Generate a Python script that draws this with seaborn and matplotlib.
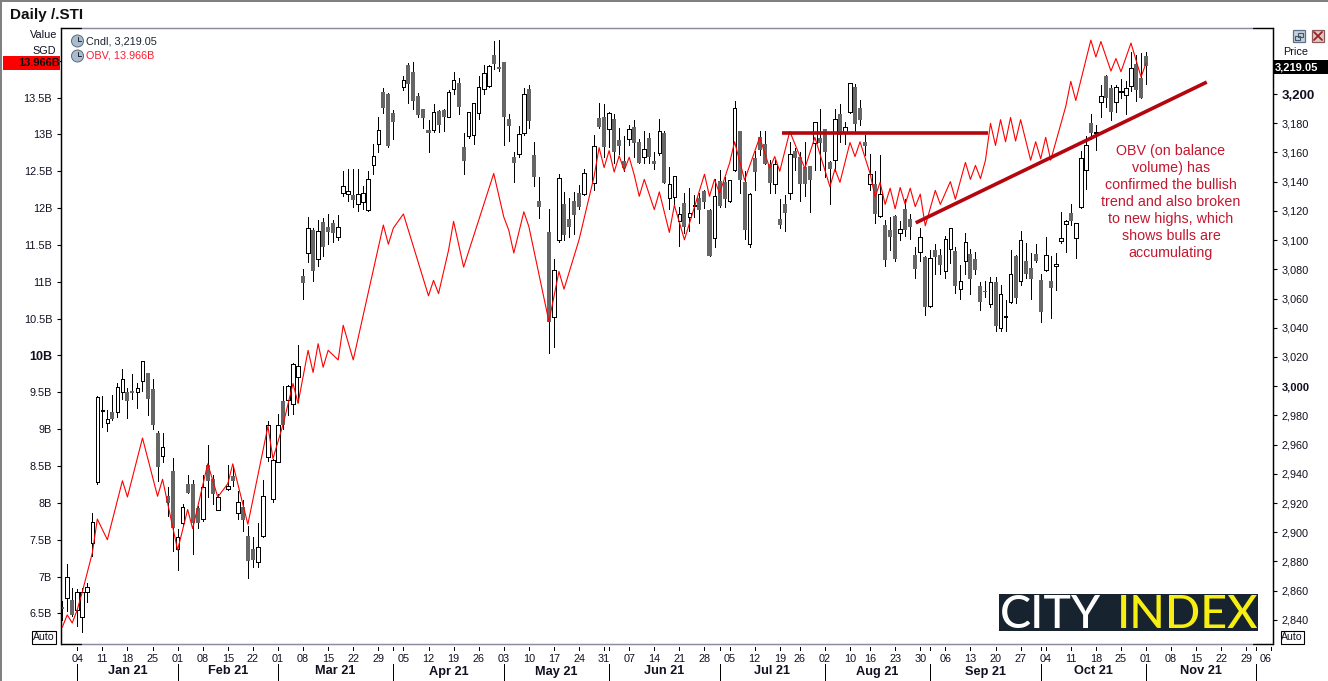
import numpy as np
import pandas as pd
import seaborn as sns
import matplotlib.pyplot as plt
from matplotlib.lines import Line2D
from matplotlib.patches import Rectangle, Ellipse

nan = np.nan

# daily candles, one slot per weekday (nan = market closed)
highs = [
    2853, 2878, 2862, 2861, 2862, 2865, 2913, 2993, 2993, 2984,
    2994, 3002, 3012, 2999, 3008, 3002, 3017, 3009, 3005, 2969,
    2968, 2931, 2951, 2902, 2919, 2939, 2936, 2918, 2939, 2960,
    2939, 2926, nan, 2946, 2945, 2928, 2922, 2904, 2897, 2906,
    2936, 2976, 2950, 2981, 3000, 3001, 3016, 3028, 3080, 3116,
    3108, 3114, 3115, 3118, 3114, 3117, 3147, 3149, 3149, 3149,
    3137, 3147, 3166, 3184, 3204, 3201, 3189, nan, 3212, 3221,
    3222, 3201, 3190, 3182, 3193, 3189, 3190, 3203, 3215, 3211,
    3173, 3188, 3194, 3212, 3220, 3220, 3236, 3237, 3222, 3186,
    3160, 3178, 3204, 3206, 3167, 3143, nan, 3121, 3087, 3145,
    3133, 3129, 3133, 3138, 3149, nan, 3172, 3194, 3193, 3188,
    3186, 3177, 3171, 3179, 3182, 3169, 3175, 3173, 3160, 3183,
    3175, 3150, 3144, 3123, 3132, 3136, 3131, 3132, 3134, 3121,
    3142, 3148, 3143, 3141, 3195, 3175, 3147, 3132, 3161, 3175,
    3175, 3155, 3155, 3128, 3131, 3167, 3163, 3160, 3167, 3151,
    3181, 3190, 3176, 3154, 3190, 3193, 3181, 3207, 3207, 3196,
    3172, 3159, 3147, 3158, 3114, 3116, 3117, 3113, 3128, 3118,
    3095, 3108, 3089, 3093, 3097, 3094, 3103, 3108, 3095, 3083,
    3105, 3094, 3092, 3071, 3072, 3075, 3075, 3069, 3059, 3093,
    3090, 3106, 3098, 3091, 3097, 3077, 3102, 3089, 3091, 3119,
    3114, 3125, 3112, 3161, 3171, 3186, 3179, 3206, 3213, 3206,
    3206, 3210, 3209, 3229, 3227, 3228, 3229,
]
lows = [
    2840, 2846, 2843, 2836, 2832, 2852, 2884, 2933, 2972, 2969,
    2977, 2979, 2991, 2978, 2991, 2985, 2997, 2980, 2971, 2935,
    2948, 2911, 2887, 2874, 2904, 2927, 2885, 2903, 2908, 2924,
    2919, 2915, nan, 2929, 2932, 2909, 2901, 2869, 2876, 2876,
    2897, 2949, 2921, 2948, 2971, 2980, 2981, 2989, 3060, 3085,
    3072, 3082, 3089, 3097, 3099, 3100, 3130, 3127, 3123, 3120,
    3121, 3120, 3145, 3160, 3187, 3164, 3169, nan, 3203, 3194,
    3190, 3184, 3177, 3160, 3174, 3174, 3175, 3184, 3200, 3186,
    3145, 3170, 3166, 3183, 3200, 3205, 3217, 3216, 3165, 3168,
    3140, 3157, 3172, 3177, 3137, 3115, nan, 3023, 3027, 3099,
    3100, 3102, 3104, 3121, 3131, nan, 3134, 3177, 3157, 3164,
    3153, 3159, 3147, 3165, 3157, 3153, 3153, 3153, 3149, 3158,
    3139, 3121, 3125, 3096, 3105, 3106, 3116, 3112, 3122, 3089,
    3095, 3123, 3123, 3126, 3147, 3132, 3101, 3095, 3134, 3158,
    3152, 3132, 3132, 3108, 3106, 3128, 3148, 3127, 3130, 3119,
    3148, 3148, 3143, 3125, 3147, 3167, 3166, 3187, 3175, 3179,
    3158, 3134, 3112, 3116, 3082, 3093, 3086, 3100, 3103, 3101,
    3074, 3086, 3049, 3054, 3077, 3077, 3074, 3084, 3064, 3060,
    3077, 3063, 3077, 3052, 3061, 3054, 3038, 3038, 3038, 3057,
    3057, 3069, 3074, 3060, 3085, 3044, 3079, 3047, 3066, 3098,
    3092, 3110, 3088, 3122, 3135, 3169, 3162, 3184, 3191, 3182,
    3188, 3197, 3186, 3202, 3195, 3197, 3207,
]
opens = [
    2849.1, 2854.8, 2853.6, 2846.8, 2841.8, 2858.9, 2892.4, 2934.4, 2983.2, 2975.0,
    2982.3, 2982.1, 2995.8, 2996.0, 2996.7, 2995.8, 3003.8, 3008.8, 2997.8, 2967.7,
    2952.4, 2924.8, 2941.9, 2888.8, 2906.1, 2933.0, 2933.0, 2916.4, 2909.3, 2946.0,
    2936.2, 2915.2, nan, 2929.8, 2938.5, 2913.4, 2917.5, 2897.4, 2888.3, 2879.4,
    2897.7, 2951.3, 2923.0, 2948.3, 2989.8, 2990.5, 2987.6, 3006.0, 3075.4, 3091.3,
    3106.9, 3086.8, 3112.1, 3108.7, 3111.5, 3102.3, 3132.0, 3131.3, 3130.9, 3124.5,
    3126.3, 3120.4, 3151.6, 3165.5, 3201.4, 3200.0, 3186.8, nan, 3205.0, 3219.8,
    3215.0, 3198.6, 3189.7, 3175.4, 3175.6, 3188.4, 3189.0, 3184.0, 3203.7, 3207.5,
    3163.7, 3171.2, 3172.2, 3187.2, 3203.2, 3205.7, 3226.7, 3218.5, 3221.9, 3182.9,
    3156.9, 3159.0, 3173.1, 3203.4, 3158.2, 3126.8, nan, 3105.5, 3047.6, 3100.0,
    3124.7, 3114.4, 3126.8, 3132.2, 3131.8, nan, 3139.3, 3183.6, 3184.2, 3176.3,
    3182.9, 3168.5, 3154.1, 3169.4, 3177.4, 3167.1, 3157.1, 3169.9, 3154.1, 3159.4,
    3173.1, 3128.6, 3129.3, 3113.3, 3125.2, 3116.0, 3123.4, 3128.6, 3133.6, 3120.6,
    3101.2, 3140.4, 3139.8, 3126.5, 3147.7, 3174.7, 3139.8, 3097.1, 3156.2, 3170.4,
    3165.8, 3152.1, 3138.2, 3114.4, 3124.7, 3132.5, 3161.0, 3156.9, 3150.0, 3150.7,
    3166.2, 3169.9, 3176.0, 3153.4, 3154.6, 3186.3, 3174.0, 3187.4, 3204.8, 3190.4,
    3167.2, 3138.4, 3138.4, 3116.5, 3110.3, 3106.9, 3116.5, 3105.1, 3121.3, 3114.4,
    3089.8, 3091.6, 3088.4, 3055.1, 3093.2, 3089.8, 3078.6, 3093.7, 3092.6, 3066.7,
    3085.4, 3090.5, 3087.0, 3068.6, 3064.9, 3056.2, 3071.1, 3039.6, 3047.1, 3057.8,
    3089.1, 3072.2, 3085.4, 3080.9, 3090.5, 3072.7, 3079.5, 3072.0, 3082.0, 3099.4,
    3110.8, 3118.5, 3101.7, 3122.4, 3147.7, 3180.2, 3173.3, 3194.7, 3212.3, 3204.1,
    3194.7, 3201.6, 3199.5, 3205.7, 3220.5, 3210.9, 3226.0,
]
closes = [
    2847.7, 2869.1, 2843.4, 2858.9, 2859.3, 2862.8, 2906.8, 2992.8, 2983.7, 2977.3,
    2977.3, 2999.7, 3004.7, 2990.1, 2995.5, 2998.5, 3017.0, 2991.2, 2973.4, 2944.9,
    2958.6, 2919.8, 2902.7, 2896.5, 2917.1, 2927.1, 2906.1, 2906.6, 2931.2, 2935.3,
    2926.0, 2924.4, nan, 2931.7, 2935.3, 2920.5, 2908.4, 2880.6, 2881.0, 2890.1,
    2924.8, 2973.2, 2949.5, 2973.2, 2973.4, 3000.1, 3015.2, 3013.8, 3070.8, 3108.0,
    3079.0, 3106.2, 3095.0, 3105.7, 3105.1, 3109.2, 3137.2, 3133.8, 3127.4, 3131.3,
    3132.5, 3141.6, 3157.6, 3175.1, 3190.4, 3164.4, 3180.8, nan, 3209.3, 3206.8,
    3195.4, 3185.6, 3183.6, 3173.3, 3187.4, 3178.8, 3184.2, 3201.4, 3209.3, 3191.1,
    3154.1, 3187.7, 3193.6, 3204.6, 3214.1, 3219.2, 3220.5, 3216.9, 3184.2, 3178.1,
    3152.8, 3172.6, 3200.0, 3181.5, 3143.2, 3122.6, nan, 3043.9, 3079.5, 3142.3,
    3103.5, 3109.0, 3117.2, 3122.6, 3145.7, nan, 3164.4, 3177.4, 3163.7, 3186.8,
    3160.3, 3164.4, 3149.3, 3175.8, 3166.5, 3152.8, 3162.1, 3156.9, 3152.1, 3174.4,
    3139.3, 3138.2, 3143.7, 3117.6, 3108.7, 3118.3, 3124.0, 3120.6, 3126.1, 3089.1,
    3130.0, 3123.4, 3128.1, 3140.9, 3190.2, 3141.1, 3106.9, 3131.3, 3146.6, 3161.7,
    3152.1, 3139.1, 3151.9, 3110.3, 3118.5, 3158.7, 3156.2, 3138.4, 3138.4, 3141.1,
    3180.6, 3166.5, 3160.3, 3148.6, 3182.7, 3171.9, 3177.2, 3207.3, 3179.5, 3182.2,
    3164.4, 3145.0, 3117.9, 3131.5, 3086.4, 3102.1, 3087.1, 3107.4, 3106.9, 3109.0,
    3080.2, 3101.9, 3054.2, 3087.5, 3088.4, 3082.9, 3100.5, 3108.0, 3068.6, 3071.8,
    3098.5, 3073.4, 3079.5, 3057.6, 3064.2, 3071.1, 3041.4, 3062.9, 3048.0, 3076.6,
    3060.6, 3100.0, 3076.8, 3073.6, 3085.7, 3050.8, 3089.6, 3067.4, 3083.6, 3101.2,
    3113.1, 3113.1, 3111.5, 3156.2, 3165.1, 3173.3, 3174.0, 3198.4, 3197.3, 3187.7,
    3204.6, 3202.3, 3204.1, 3217.6, 3202.7, 3197.3, 3219.05,
]

# OBV turning points, in billions
obv_slot = [
    0, 1, 2, 3, 4, 6, 7, 9, 12, 13, 16, 19, 20, 23, 25, 26, 29, 31, 33, 34,
    37, 41, 42, 44, 46, 47, 49, 50, 51, 52, 53, 55, 56, 58, 64, 65, 66, 68,
    73, 74, 75, 77, 78, 80, 86, 88, 89, 90, 92, 93, 97, 99, 100, 103, 106,
    107, 108, 109, 110, 111, 112, 113, 114, 115, 116, 118, 119, 121, 122,
    124, 128, 129, 130, 131, 133, 134, 136, 139, 141, 142, 143, 145, 148,
    150, 153, 154, 155, 157, 158, 159, 161, 162, 163, 164, 165, 166, 167,
    168, 169, 170, 171, 172, 174, 175, 177, 178, 180, 181, 182, 183, 184,
    185, 186, 187, 188, 189, 190, 191, 193, 194, 195, 196, 197, 200, 201,
    202, 205, 206, 207, 209, 210, 211, 213, 215, 216,
]
obv_bn = [
    6.31, 6.48, 6.37, 6.55, 6.79, 7.32, 7.78, 7.50, 8.30, 8.08, 8.88, 8.09,
    8.32, 7.36, 7.91, 7.65, 8.53, 8.08, 8.26, 8.53, 7.71, 9.04, 8.60, 9.06,
    9.62, 9.35, 10.07, 9.77, 10.16, 9.84, 10.07, 9.94, 10.41, 9.94, 11.77,
    11.51, 11.73, 11.92, 10.81, 11.02, 10.84, 11.43, 11.82, 11.20, 12.47,
    11.88, 11.70, 11.39, 11.95, 11.75, 10.46, 11.14, 10.90, 11.57, 12.43,
    12.82, 12.55, 12.78, 12.49, 12.71, 12.51, 12.69, 12.45, 12.16, 12.39,
    11.98, 12.22, 11.67, 12.04, 11.57, 12.46, 12.16, 12.39, 12.20, 12.61,
    12.90, 12.38, 12.96, 12.54, 12.70, 12.50, 13.04, 12.54, 12.96, 12.29,
    12.53, 12.35, 12.89, 12.70, 12.90, 12.47, 12.15, 12.35, 12.05, 12.27,
    11.99, 12.28, 12.05, 12.27, 12.02, 12.19, 11.76, 12.24, 12.05, 12.36,
    12.12, 12.62, 12.39, 12.58, 12.40, 12.65, 13.15, 12.85, 13.20, 12.90,
    13.23, 12.91, 13.20, 12.65, 12.90, 12.67, 12.96, 12.65, 13.38, 13.72,
    13.46, 14.28, 14.05, 14.26, 13.86, 14.03, 13.85, 14.24, 13.78, 13.966,
]

# hand drawn levels on the OBV scale
flat_slots = [143.4, 184.6]
flat_bn = [13.02, 13.02]
trend_slots = [170.1, 228.1]
trend_bn = [11.80, 13.71]

week_slots = [
    3, 8, 13, 18, 23, 28, 33, 38, 43, 48, 53, 58, 63, 68, 73, 78, 83, 88, 93,
    98, 103, 108, 113, 118, 123, 128, 133, 138, 143, 147, 152, 157, 161, 166,
    171, 176, 181, 186, 191, 196, 201, 206, 211, 216, 221, 226, 231, 236, 241,
]
week_labels = [
    "04", "11", "18", "25", "01", "08", "15", "22", "01", "08", "15", "22",
    "29", "05", "12", "19", "26", "03", "10", "17", "24", "31", "07", "14",
    "21", "28", "05", "12", "19", "26", "02", "10", "16", "23", "30", "06",
    "13", "20", "27", "04", "11", "18", "25", "01", "08", "15", "22", "29", "06",
]
month_slots = [3, 23, 43, 66, 88, 109, 131, 152, 173, 195, 216, 238]
month_labels = ["Jan 21", "Feb 21", "Mar 21", "Apr 21", "May 21", "Jun 21",
                "Jul 21", "Aug 21", "Sep 21", "Oct 21", "Nov 21"]

obv_ticks = [6.5, 7, 7.5, 8, 8.5, 9, 9.5, 10, 10.5, 11, 11.5, 12, 12.5, 13, 13.5, 14]
obv_labels = ["6.5B", "7B", "7.5B", "8B", "8.5B", "9B", "9.5B", "10B", "10.5B",
              "11B", "11.5B", "12B", "12.5B", "13B", "13.5B", "14B"]
price_ticks = list(range(2840, 3201, 20))

note = ("OBV (on balance\nvolume) has\nconfirmed the bullish\ntrend and also broken\n"
        "to new highs, which\nshows bulls are\naccumulating")

W, H = 1328, 681
LEFT, RIGHT, TOP, BOTTOM = 60.5, 1273, 28, 644
AXIS_GREY = "#8a8aa0"
NOTE_RED = "#c3172f"
LINE_RED = "#b3060f"

sns.set_theme(style="white")
plt.rcParams["font.family"] = ["Liberation Sans", "DejaVu Sans"]

candles = pd.DataFrame({"open": opens, "high": highs, "low": lows, "close": closes})
candles["slot"] = candles.index
candles = candles.dropna()
up = candles[candles["close"] >= candles["open"]]
down = candles[candles["close"] < candles["open"]]

fig = plt.figure(figsize=(W / 100, H / 100), dpi=100, facecolor="white")
ax = fig.add_axes([LEFT / W, 1 - BOTTOM / H, (RIGHT - LEFT) / W, (BOTTOM - TOP) / H])
ax_obv = ax.twinx()


def fx(px):
    return px / W


def fy(px):
    return 1 - px / H


def below(px):
    # pixels under the plot, as an axes fraction
    return -(px - BOTTOM) / (BOTTOM - TOP)


# candles
ax.vlines(candles["slot"], candles["low"], candles["high"], color="black", lw=0.72,
          antialiased=False, zorder=1)
ax.bar(up["slot"], up["close"] - up["open"], bottom=up["open"], width=0.72,
       facecolor="white", edgecolor="black", linewidth=0.72, antialiased=False, zorder=2)
ax.bar(down["slot"], down["close"] - down["open"], bottom=down["open"], width=0.8,
       color="#666666", linewidth=0, antialiased=False, zorder=2)

ax.set_xlim(-0.34, 241.3)
ax.set_ylim(2823.5, 3245.2)
ax.yaxis.tick_right()
ax.set_yticks(price_ticks)
ax.set_yticklabels([f"{p:,}" for p in price_ticks])
ax.tick_params(axis="y", right=True, left=False, length=3, width=0.8, color="black",
               pad=3, labelsize=7.8, labelcolor="#101020")
for label, p in zip(ax.get_yticklabels(), price_ticks):
    if p == 3200:
        label.set_fontsize(9.5)
        label.set_fontweight("bold")
    elif p == 3000:
        label.set_fontsize(8)
        label.set_fontweight("bold")

# OBV line and drawn levels
sns.lineplot(x=obv_slot, y=obv_bn, ax=ax_obv, color="#ff0000", linewidth=0.8, sort=False,
             estimator=None, zorder=3)
sns.lineplot(x=flat_slots, y=flat_bn, ax=ax_obv, color=LINE_RED, linewidth=2.6, sort=False,
             estimator=None, solid_capstyle="butt", zorder=4)
sns.lineplot(x=trend_slots, y=trend_bn, ax=ax_obv, color=LINE_RED, linewidth=2.6, sort=False,
             estimator=None, solid_capstyle="butt", zorder=4)
ax_obv.set_ylim(6.085, 14.444)
ax_obv.set_xlim(-0.34, 241.3)
ax_obv.set_xlabel("")
ax_obv.set_ylabel("")
ax_obv.yaxis.tick_left()
ax_obv.set_yticks(obv_ticks)
ax_obv.set_yticklabels(obv_labels)
ax_obv.tick_params(axis="y", left=True, right=False, length=3, width=0.8, color="black",
                   pad=3, labelsize=7.8, labelcolor="#101020")
for label, v in zip(ax_obv.get_yticklabels(), obv_ticks):
    if v == 10:
        label.set_fontsize(9)
        label.set_fontweight("bold")

# frame: grey top and bottom with short black ends
for a in (ax, ax_obv):
    a.grid(False)
    a.patch.set_alpha(0)
    a.spines["left"].set_color("black")
    a.spines["right"].set_color("black")
    a.spines["left"].set_linewidth(0.9)
    a.spines["right"].set_linewidth(0.9)
    a.spines["top"].set_color(AXIS_GREY)
    a.spines["bottom"].set_color(AXIS_GREY)
    a.spines["top"].set_linewidth(0.9)
    a.spines["bottom"].set_linewidth(0.9)
for y in (TOP, BOTTOM):
    fig.add_artist(Line2D([fx(LEFT), fx(81)], [fy(y), fy(y)], color="black", lw=0.9))
    fig.add_artist(Line2D([fx(1253), fx(RIGHT)], [fy(y), fy(y)], color="black", lw=0.9))

# time axis
ax.set_xticks(week_slots)
ax.set_xticklabels(week_labels)
ax.tick_params(axis="x", bottom=False, length=0, pad=7, labelsize=7.8, labelcolor="#101020")
ax.get_xticklabels()[-1].set_horizontalalignment("right")
marks = ax.get_xaxis_transform()
ax.vlines(week_slots + month_slots, below(647), below(650), color="black", lw=0.72,
          antialiased=False, transform=marks, clip_on=False)
ax.vlines(month_slots, below(664), below(680), color="black", lw=0.72,
          antialiased=False, transform=marks, clip_on=False)
for start, end, label in zip(month_slots[:-1], month_slots[1:], month_labels):
    ax.text((start + end) / 2, below(671.5), label, transform=marks, ha="center", va="center",
            fontsize=9.2, fontweight="bold", color="#101020")

# outer window
fig.add_artist(Rectangle((0, 0), fx(2), 1, transform=fig.transFigure, color="#808080", lw=0))
fig.add_artist(Rectangle((0, fy(2)), 1, fy(0) - fy(2), transform=fig.transFigure, color="#808080", lw=0))
fig.text(fx(10), fy(15.5), "Daily /.STI", fontsize=11, fontweight="bold", ha="left", va="center", color="#101010")

# left scale header
fig.text(fx(57), fy(35), "Value", fontsize=7.8, ha="right", va="center", color="#101020")
fig.text(fx(56), fy(51), "SGD", fontsize=7.8, ha="right", va="center", color="#101020")
fig.add_artist(Rectangle((fx(3), fy(70)), fx(57), fy(56) - fy(70), transform=fig.transFigure,
                         color="#ff0000", lw=0, zorder=5))
fig.text(fx(60), fy(63), "13.966B", fontsize=8, fontweight="bold", ha="right", va="center",
         color="#101010", zorder=6)

# right scale header
fig.text(fx(1283), fy(52), "Price", fontsize=7.8, ha="left", va="center", color="#101020")
fig.add_artist(Rectangle((fx(1273), fy(74)), fx(55), fy(60) - fy(74), transform=fig.transFigure,
                         color="black", lw=0, zorder=5))
fig.text(fx(1274.5), fy(67), "3,219.05", fontsize=8, fontweight="bold", ha="left", va="center",
         color="white", zorder=6)

# series captions with their clock icons
for y, text, colour in ((41, "Cndl, 3,219.05", "#1a2430"), (56, "OBV, 13.966B", "#ff1a30")):
    fig.add_artist(Ellipse((fx(77.5), fy(y)), 12 / W, 12 / H, transform=fig.transFigure,
                           facecolor="#a9bccf", edgecolor="#5d6b7a", lw=0.7, zorder=5))
    fig.add_artist(Line2D([fx(77.5), fx(77.5), fx(81)], [fy(y - 4), fy(y), fy(y)],
                          color="#20242a", lw=0.7, zorder=6))
    fig.text(fx(86), fy(y), text, fontsize=7.8, ha="left", va="center", color=colour)

# window buttons
for x0, edge, face in ((1293, "#5a7389", "#c4d0dc"), (1312, "#8a5a5a", "#dcc8c8")):
    fig.add_artist(Rectangle((fx(x0), fy(42)), 12 / W, 12 / H, transform=fig.transFigure,
                             facecolor=face, edgecolor=edge, lw=0.9))
fig.add_artist(Rectangle((fx(1295), fy(40)), 5 / W, 4 / H, transform=fig.transFigure,
                         facecolor="none", edgecolor="#40566a", lw=0.8))
fig.add_artist(Rectangle((fx(1298), fy(37)), 5 / W, 4 / H, transform=fig.transFigure,
                         facecolor="none", edgecolor="#40566a", lw=0.8))
fig.add_artist(Line2D([fx(1314), fx(1322)], [fy(32), fy(40)], color="#a02020", lw=1.3))
fig.add_artist(Line2D([fx(1314), fx(1322)], [fy(40), fy(32)], color="#a02020", lw=1.3))

# Auto buttons
for x0 in (32, 1280.5):
    fig.add_artist(Rectangle((fx(x0), fy(643.5)), 23.5 / W, 12.5 / H, transform=fig.transFigure,
                             facecolor="white", edgecolor="black", lw=0.8, zorder=5))
    fig.text(fx(x0 + 11.75), fy(637.3), "Auto", fontsize=7.6, ha="center", va="center",
             color="#101020", zorder=6)

# annotation
fig.text(fx(1171), fy(202), note, fontsize=10.3, ha="center", va="center", color=NOTE_RED,
         linespacing=1.28)

# logo
fig.add_artist(Rectangle((fx(999), fy(631)), 259 / W, 37 / H, transform=fig.transFigure,
                         color="#17232e", lw=0, zorder=5))
fig.text(fx(999.5), fy(628), "CITY", fontsize=33.5, family="Lato", fontweight="medium", ha="left",
         va="baseline", color="white", zorder=6)
fig.text(fx(1117), fy(628), "INDEX", fontsize=33.5, family="Lato", fontweight="medium", ha="left",
         va="baseline", color="#f7ee12", zorder=6)

fig.savefig("out.png", dpi=100)
